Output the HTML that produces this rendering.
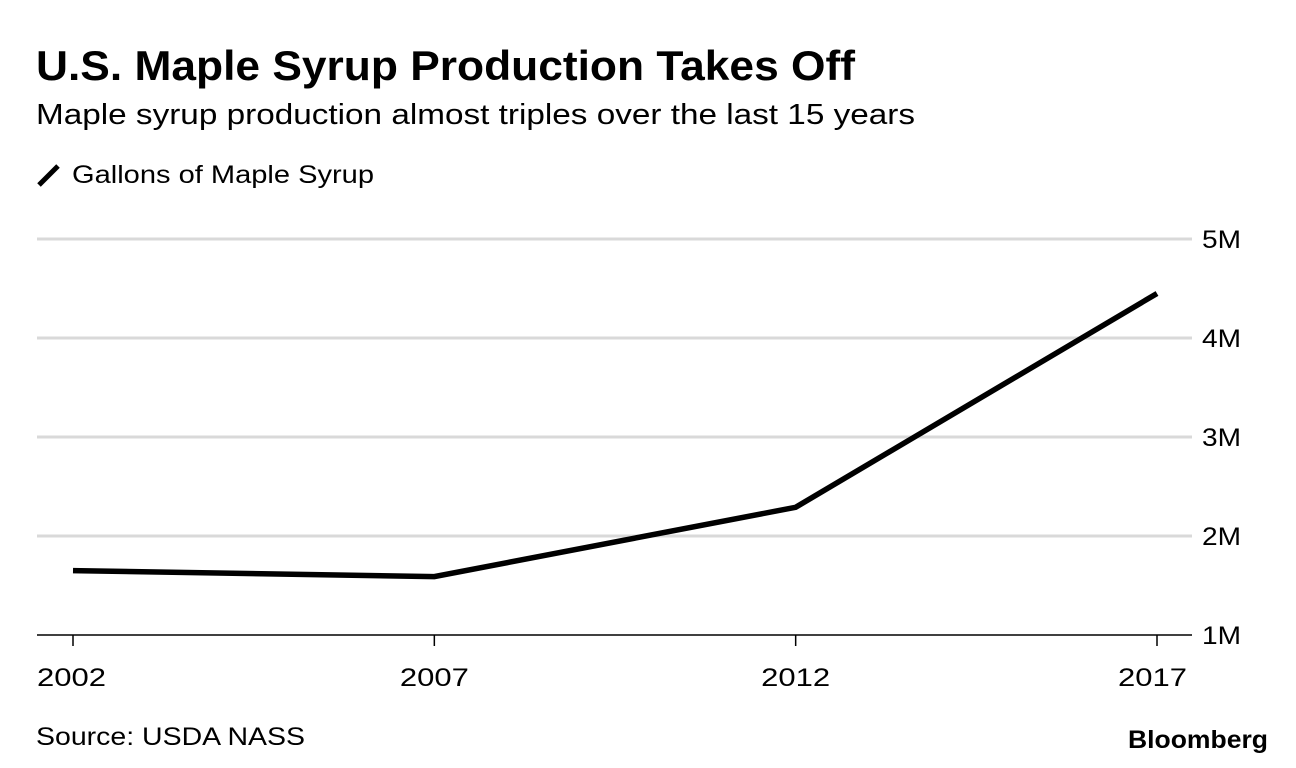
<!DOCTYPE html>
<html><head><meta charset="utf-8"><style>
body{margin:0;background:#fff;font-family:"Liberation Sans",Arial,sans-serif;}
svg{display:block}
</style></head><body>
<svg width="1296" height="768" id="chart">
<text x="36" y="80" font-size="42" font-weight="bold" fill="#000" textLength="819" lengthAdjust="spacingAndGlyphs">U.S. Maple Syrup Production Takes Off</text>
<text x="36" y="124" font-size="29" fill="#000" textLength="879" lengthAdjust="spacingAndGlyphs">Maple syrup production almost triples over the last 15 years</text>
<line x1="39" y1="185" x2="58" y2="166" stroke="#000" stroke-width="5"/>
<text x="72" y="183" font-size="25" fill="#000" textLength="302" lengthAdjust="spacingAndGlyphs">Gallons of Maple Syrup</text>
<g id="grid"></g><g id="xaxis"></g><g id="yaxis"></g><g id="series"></g>
<text x="36" y="745" font-size="25" fill="#000" textLength="269" lengthAdjust="spacingAndGlyphs">Source: USDA NASS</text>
<text x="1128" y="748" font-size="25" font-weight="bold" fill="#000" textLength="140" lengthAdjust="spacingAndGlyphs">Bloomberg</text>
</svg>
<script>
const years=[2002,2007,2012,2017];
const gallons=[1.65,1.59,2.29,4.45];
const yTicks=[1,2,3,4,5];
const yTickLabels=["1M","2M","3M","4M","5M"];
const NS="http://www.w3.org/2000/svg";
function xs(v){return 73+(v-2002)/15*(1157-73);}
function ys(v){return 635-(v-1)*99;}
function mk(t,a,p){const e=document.createElementNS(NS,t);for(const k in a)e.setAttribute(k,a[k]);p.appendChild(e);return e;}
const grid=document.getElementById('grid'),xa=document.getElementById('xaxis'),ya=document.getElementById('yaxis'),se=document.getElementById('series');
yTicks.forEach((v,i)=>{
 const l=mk('line',{x1:37,x2:1192,y1:ys(v),y2:ys(v),stroke:v===1?'#000':'#d9d9d9','stroke-width':v===1?1.5:3},grid);
 
 
 const t=mk('text',{x:1202,y:ys(v)+9,'font-size':25,fill:'#000',textLength:39,lengthAdjust:'spacingAndGlyphs'},ya);
 t.textContent=yTickLabels[i];
 
 
});
years.forEach((y,i)=>{
 const tk=mk('line',{x1:xs(y),x2:xs(y),y1:635,y2:646,stroke:'#000','stroke-width':1.5},xa);
 
 
 const anchor=i===0?'start':(i===years.length-1?'end':'middle');
 const tx=i===0?37:(i===years.length-1?1187:xs(y));
 const t=mk('text',{x:tx,y:686,'font-size':25,fill:'#000','text-anchor':anchor,textLength:69,lengthAdjust:'spacingAndGlyphs'},xa);
 t.textContent=y;
 
 
});
const p=mk('polyline',{points:years.map((y,i)=>xs(y)+','+ys(gallons[i])).join(' '),fill:'none',stroke:'#000','stroke-width':5.5,'stroke-linejoin':'miter'},se);


</script>
</body></html>
